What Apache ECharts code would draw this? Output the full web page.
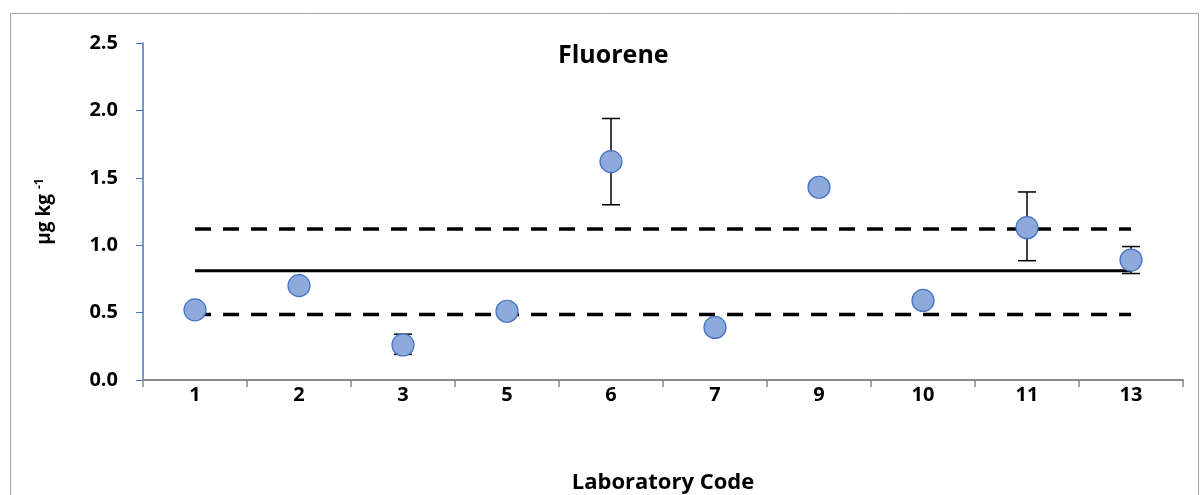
<!DOCTYPE html>
<html><head><meta charset="utf-8">
<script src="https://cdn.jsdelivr.net/npm/echarts@6/dist/echarts.min.js"></script>
<style>html,body{margin:0;padding:0;background:#fff}#c{width:1201px;height:495px}</style>
</head><body><div id="c"></div>
<script>
const categories = ['1','2','3','5','6','7','9','10','11','13'];
const values = [0.52, 0.70, 0.26, 0.51, 1.62, 0.39, 1.43, 0.59, 1.13, 0.89];
const errLow = [null, null, 0.19, null, 1.30, null, null, null, 0.885, 0.79];
const errHigh = [null, null, 0.34, null, 1.94, null, null, null, 1.395, 0.99];
const assignedValue = 0.81;
const upperLimit = 1.12;
const lowerLimit = 0.485;

const chart = echarts.init(document.getElementById('c'));
const F = '"Open Sans", "Liberation Sans", sans-serif';
const errData = categories.map((c, i) => [i, errLow[i], errHigh[i]]).filter(d => d[1] != null);

chart.setOption({
  animation: false,
  graphic: [{type:'rect', shape:{x:10.5, y:13.5, width:1188, height:500}, style:{fill:'none', stroke:'#a6a6a6', lineWidth:1}}],
  title: {text:'Fluorene', left:553, top:38, textStyle:{fontFamily:F, fontWeight:'bold', fontSize:25, color:'#000'}},
  grid: {left:143, right:18, top:43, bottom:115, containLabel:false, outerBoundsMode:'none'},
  xAxis: {
    type:'category', data:categories, boundaryGap:true,
    name:'Laboratory Code', nameLocation:'middle', nameGap:92,
    nameTextStyle:{fontFamily:F, fontWeight:'bold', fontSize:22, color:'#000'},
    axisLine:{lineStyle:{color:'#898989', width:2}},
    axisTick:{show:true, alignWithLabel:false, length:7, lineStyle:{color:'#898989', width:1.5}},
    axisLabel:{fontFamily:F, fontWeight:'bold', fontSize:20, color:'#000', margin:5},
    splitLine:{show:false}
  },
  yAxis: {
    type:'value', min:0, max:2.5, interval:0.5,
    name:'{a|µg kg }{s|-1}', nameLocation:'middle', nameGap:88,
    nameTextStyle:{rich:{a:{fontFamily:F, fontWeight:'bold', fontSize:19, color:'#000'}, s:{fontFamily:F, fontWeight:'bold', fontSize:12, color:'#000', verticalAlign:'top', padding:[0,0,9,0]}}},
    axisLine:{show:true, lineStyle:{color:'#4472c4', width:1.5}},
    axisTick:{show:true, length:7, lineStyle:{color:'#4472c4'}},
    axisLabel:{fontFamily:F, fontWeight:'bold', fontSize:20, color:'#000', margin:25, formatter:v=>v.toFixed(1)},
    splitLine:{show:false}
  },
  series: [
    {type:'line', data:categories.map(()=>upperLimit), symbol:'none', lineStyle:{color:'#000', width:3.5, type:[16,12]}, z:2},
    {type:'line', data:categories.map(()=>lowerLimit), symbol:'none', lineStyle:{color:'#000', width:3.5, type:[16,12]}, z:2},
    {type:'line', data:categories.map(()=>assignedValue), symbol:'none', lineStyle:{color:'#000', width:3}, z:2},
    {type:'custom', z:3, data:errData, renderItem:(params, api)=>{
      const x = api.value(0);
      const lo = api.coord([x, api.value(1)]);
      const hi = api.coord([x, api.value(2)]);
      const w = 9;
      const st = {stroke:'#000', lineWidth:1.5};
      return {type:'group', children:[
        {type:'line', shape:{x1:lo[0], y1:lo[1], x2:hi[0], y2:hi[1]}, style:st},
        {type:'line', shape:{x1:lo[0]-w, y1:lo[1], x2:lo[0]+w, y2:lo[1]}, style:st},
        {type:'line', shape:{x1:hi[0]-w, y1:hi[1], x2:hi[0]+w, y2:hi[1]}, style:st}
      ]};
    }},
    {type:'scatter', z:4, data:values, symbol:'circle', symbolSize:22, itemStyle:{color:'#8eaadb', borderColor:'#4472c4', borderWidth:1.2, opacity:1}}
  ]
});
</script></body></html>
